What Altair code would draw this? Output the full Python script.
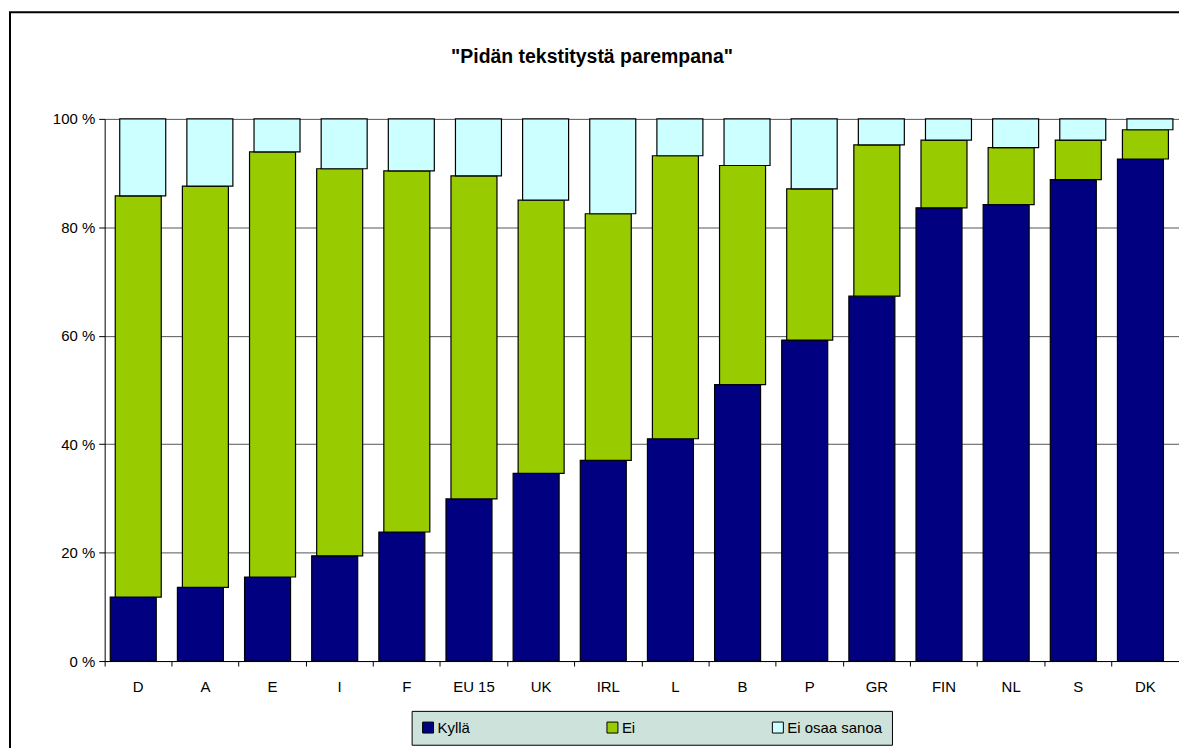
import altair as alt
import pandas as pd

countries = ["D", "A", "E", "I", "F", "EU 15", "UK", "IRL", "L", "B", "P", "GR", "FIN", "NL", "S", "DK"]
kylla = [11.8, 13.6, 15.5, 19.4, 23.8, 29.9, 34.6, 37.0, 41.0, 51.0, 59.2, 67.3, 83.6, 84.2, 88.8, 92.6]
ei = [74.0, 74.0, 78.4, 71.4, 66.6, 59.6, 50.4, 45.5, 52.2, 40.4, 27.9, 27.9, 12.5, 10.5, 7.3, 5.4]
eos = [14.2, 12.4, 6.1, 9.2, 9.6, 10.5, 15.0, 17.5, 6.8, 8.6, 12.9, 4.8, 3.9, 5.3, 3.9, 2.0]
series_names = ["Kyllä", "Ei", "Ei osaa sanoa"]
series_colors = ["#000080", "#99CC00", "#CCFFFF"]
y_ticks = [0, 20, 40, 60, 80, 100]
TITLE = '"Pidän tekstitystä parempana"'

FONT = "Liberation Sans, Arial, sans-serif"
W, H = 1078, 544

rows = []
for i, c in enumerate(countries):
    for k, (s, vals) in enumerate(zip(series_names, [kylla, ei, eos])):
        rows.append({"country": c, "series": s, "value": vals[i], "order": k})
df = pd.DataFrame(rows)

base = alt.Chart(df).transform_stack(
    stack="value", groupby=["country"], as_=["y0", "y1"],
    sort=[alt.SortField("order", order="ascending")]
)

x_enc = alt.X("country:N", sort=countries, title=None,
              scale=alt.Scale(paddingInner=0, paddingOuter=0),
              axis=alt.Axis(labelAngle=0, bandPosition=0, tickSize=5, tickColor="black",
                            domainColor="black", labelFont=FONT, labelFontSize=15,
                            labelColor="black", labelPadding=14, grid=False))
y_enc = alt.Y("y1:Q", title=None,
              scale=alt.Scale(domain=[0, 100], nice=False),
              axis=alt.Axis(values=y_ticks, labelExpr="datum.value + ' %'", tickSize=6,
                            tickColor="black", domainColor="black", labelFont=FONT,
                            labelFontSize=15, labelColor="black", labelPadding=4,
                            grid=True, gridColor="#555555", gridWidth=1))
color_enc = alt.Color("series:N", scale=alt.Scale(domain=series_names, range=series_colors),
                      legend=alt.Legend(orient="none", legendX=308, legendY=594,
                                        direction="horizontal", title=None,
                                        fillColor="#CCE2DA", strokeColor="black",
                                        padding=9, symbolType="square", symbolSize=121,
                                        symbolStrokeColor="black", symbolStrokeWidth=1,
                                        labelFont=FONT, labelFontSize=15, labelColor="black",
                                        columnPadding=135, labelOffset=2))

offsets = {"Kyllä": -5, "Ei": 0, "Ei osaa sanoa": 4.5}
layers = []
for s in series_names:
    layers.append(
        base.transform_filter(alt.datum.series == s)
        .mark_bar(width=alt.RelativeBandSize(0.685), xOffset=offsets[s],
                  stroke="black", strokeWidth=1.2)
        .encode(x=x_enc, y=y_enc, y2="y0:Q", color=color_enc)
    )

one = pd.DataFrame({"t": [TITLE]})
title = alt.Chart(one).mark_text(font=FONT, fontSize=19.5, fontWeight="bold",
                                 align="center", baseline="alphabetic", color="black").encode(
    text="t:N", x=alt.value(594 - 105), y=alt.value(62 - 118))
frame_left = alt.Chart(one).mark_rule(color="black", strokeWidth=2).encode(
    x=alt.value(-95), y=alt.value(-107), y2=alt.value(H + 90))
frame_top = alt.Chart(one).mark_rule(color="black", strokeWidth=2).encode(
    x=alt.value(-96), x2=alt.value(W + 10), y=alt.value(-107))

chart = alt.layer(*layers, title, frame_left, frame_top).properties(
    width=W, height=H,
    autosize=alt.AutoSizeParams(type="none"),
    padding={"left": 97, "top": 110, "right": 0, "bottom": 86},
).configure_view(stroke=None)

chart.save("out.html", embed_options={"renderer": "svg", "actions": False})
